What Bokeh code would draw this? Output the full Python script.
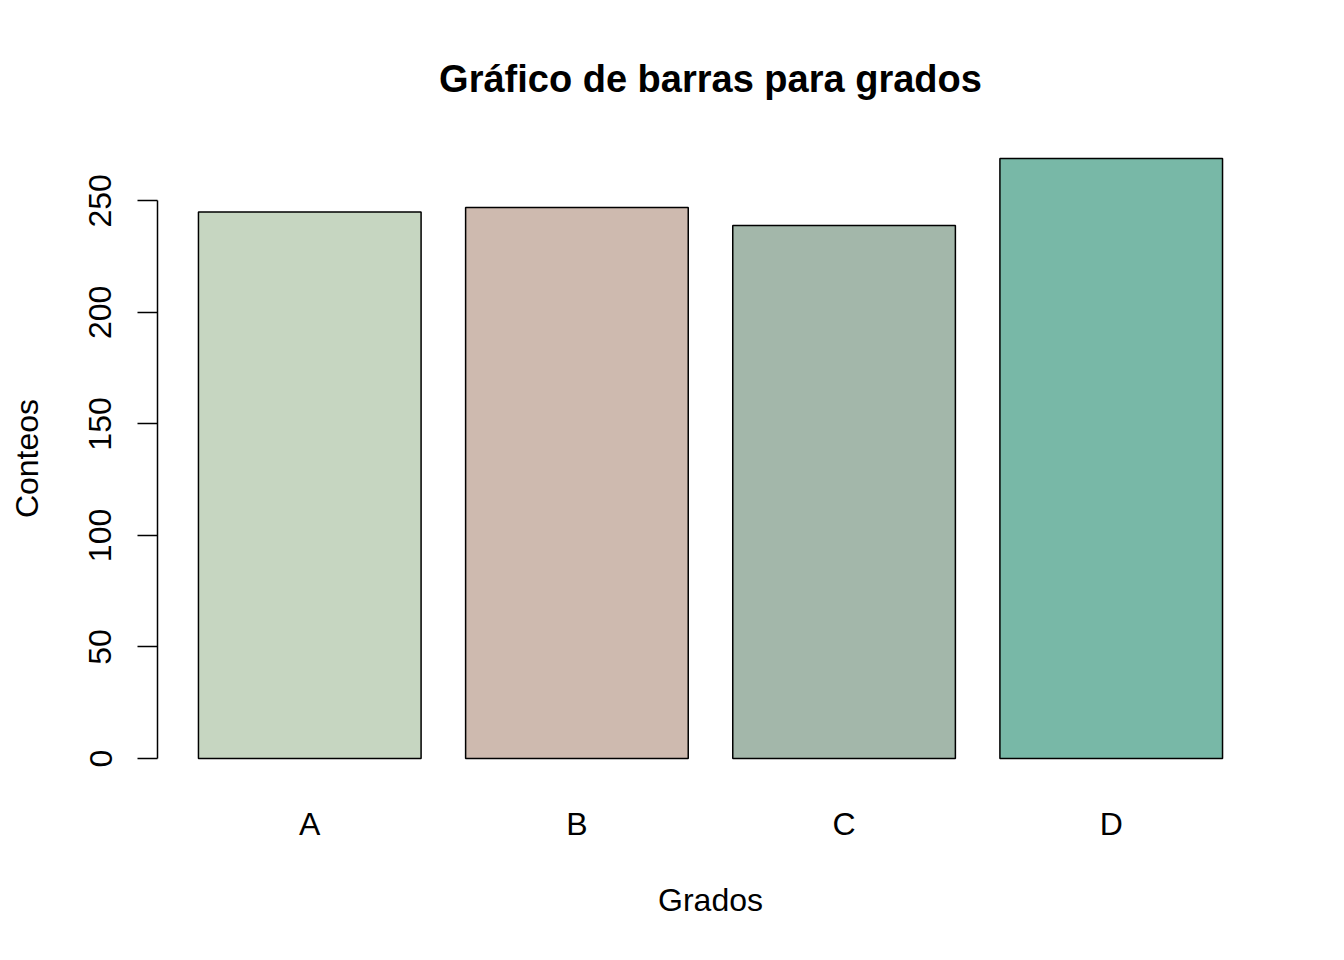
from bokeh.plotting import figure
from bokeh.models import FactorRange, Range1d, FixedTicker, ColumnDataSource
from bokeh.embed import file_html
from bokeh.resources import INLINE

# Data
grados = ["A", "B", "C", "D"]
conteos = [245, 247, 239, 269]
colores = ["#C6D6C1", "#CEBAAF", "#A3B7AA", "#78B8A7"]
y_ticks = [0, 50, 100, 150, 200, 250]

FONT = "Liberation Sans"

ymin = min(0, min(conteos))
ymax = max(conteos)
pad = 0.04 * (ymax - ymin)

source = ColumnDataSource(dict(x=grados, top=conteos, color=colores))

p = figure(
    width=1328, height=944,
    x_range=FactorRange(factors=grados, range_padding=0.07, range_padding_units="absolute"),
    y_range=Range1d(ymin - pad, ymax + pad),
    output_backend="svg", toolbar_location=None,
    min_border_left=157, min_border_right=65, min_border_top=134, min_border_bottom=162,
)

p.vbar(x="x", top="top", bottom=0, width=1 / 1.2, source=source,
       fill_color="color", line_color="black", line_width=1.5)

p.title.text = "Gráfico de barras para grados"
p.title.align = "center"
p.title.text_font = FONT
p.title.text_font_size = "38px"
p.title.text_font_style = "bold"
p.title.text_color = "black"
p.title.standoff = 70

p.grid.visible = False
p.outline_line_color = None
p.background_fill_color = "white"
p.border_fill_color = "white"

# x axis
xa = p.xaxis[0]
xa.axis_line_color = None
xa.major_tick_line_color = None
xa.minor_tick_line_color = None
xa.major_label_text_font = FONT
xa.major_label_text_font_size = "32px"
xa.major_label_text_color = "black"
xa.major_label_standoff = 17
xa.axis_label = "Grados"
xa.axis_label_text_font = FONT
xa.axis_label_text_font_size = "32px"
xa.axis_label_text_font_style = "normal"
xa.axis_label_text_color = "black"
xa.axis_label_standoff = 37

# y axis
ya = p.yaxis[0]
ya.ticker = FixedTicker(ticks=y_ticks)
ya.bounds = (min(y_ticks), max(y_ticks))
ya.axis_line_color = "black"
ya.axis_line_width = 1.5
ya.major_tick_line_color = "black"
ya.major_tick_line_width = 1.5
ya.major_tick_out = 20
ya.major_tick_in = 0
ya.minor_tick_line_color = None
ya.major_label_orientation = "vertical"
ya.major_label_text_font = FONT
ya.major_label_text_font_size = "32px"
ya.major_label_text_color = "black"
ya.major_label_standoff = 26
ya.axis_label = "Conteos"
ya.axis_label_text_font = FONT
ya.axis_label_text_font_size = "32px"
ya.axis_label_text_font_style = "normal"
ya.axis_label_text_color = "black"
ya.axis_label_standoff = 42

open("out.html", "w").write(file_html(p, INLINE))
